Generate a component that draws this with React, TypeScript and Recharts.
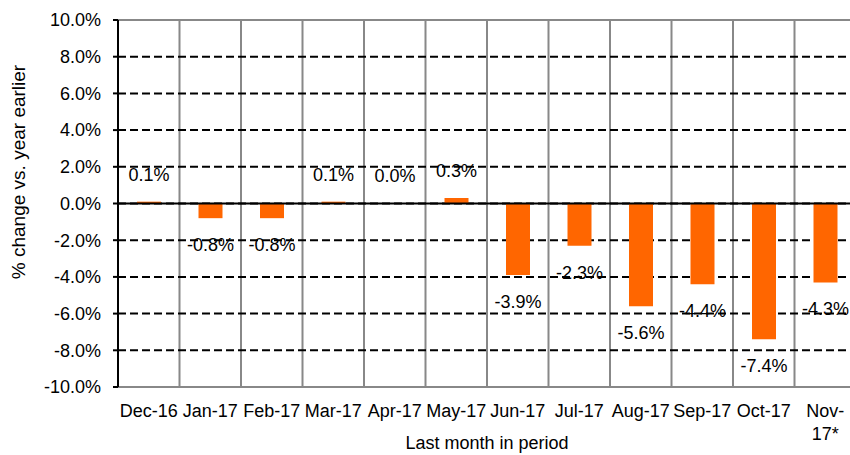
import { BarChart, Bar, XAxis, YAxis, CartesianGrid, ReferenceLine, LabelList } from 'recharts';

const months = ['Dec-16', 'Jan-17', 'Feb-17', 'Mar-17', 'Apr-17', 'May-17', 'Jun-17', 'Jul-17', 'Aug-17', 'Sep-17', 'Oct-17', 'Nov-17*'];
const changes = [0.1, -0.8, -0.8, 0.1, 0.0, 0.3, -3.9, -2.3, -5.6, -4.4, -7.4, -4.3];
const yTicks = [-10, -8, -6, -4, -2, 0, 2, 4, 6, 8, 10];

const data = months.map((m, i) => ({ month: m, change: changes[i] }));

const FONT = '"Liberation Sans", Arial, sans-serif';

function MonthTick(props: any) {
  const { x, y, payload } = props;
  const label: string = payload.value;
  // long labels wrap after the dash, like the original
  const lines = label.length > 6 ? [label.slice(0, label.indexOf('-') + 1), label.slice(label.indexOf('-') + 1)] : [label];
  return (
    <text x={x} y={y + 16} textAnchor="middle" fontSize={18} fontFamily={FONT} fill="#000">
      {lines.map((l, i) => (
        <tspan key={i} x={x} dy={i === 0 ? '0.35em' : 22.5}>{l}</tspan>
      ))}
    </text>
  );
}

function ValueLabel(props: any) {
  const { x, y, width, height, value } = props;
  const top = Math.min(y, y + height);
  const bottom = Math.max(y, y + height);
  const ly = value >= 0 ? top - 27 : bottom + 27;
  return (
    <text x={x + width / 2} y={ly} textAnchor="middle" dominantBaseline="central" fontSize={18} fontFamily={FONT} fill="#000">
      {`${Number(value).toFixed(1)}%`}
    </text>
  );
}

export default function App() {
  return (
    <div style={{ position: 'absolute', left: 0, top: 0, width: 850, height: 455, overflow: 'hidden', background: '#fff' }}>
      <BarChart width={856} height={455} data={data} margin={{ top: 20, right: 0, bottom: 0, left: 0 }} barSize={24}>
        <CartesianGrid
          horizontal={false}
          stroke="#888"
          strokeWidth={2}
          verticalCoordinatesGenerator={({ offset }: any) =>
            months.slice(1).map((_, i) => offset.left + ((i + 1) * offset.width) / months.length)
          }
        />
        <CartesianGrid vertical={false} stroke="#000" strokeWidth={2} strokeDasharray="8 4" />
        <XAxis
          dataKey="month"
          interval={0}
          tick={<MonthTick />}
          tickLine={false}
          axisLine={{ stroke: '#888', strokeWidth: 2 }}
          height={68}
          label={{ value: 'Last month in period', position: 'insideBottom', offset: 6, fontSize: 18, fontFamily: FONT, fill: '#000' }}
        />
        <YAxis
          type="number"
          domain={[-10, 10]}
          ticks={yTicks}
          interval={0}
          width={118}
          tickFormatter={(v: number) => `${v.toFixed(1)}%`}
          tick={{ fontSize: 18, fontFamily: FONT, fill: '#000' }}
          tickSize={5}
          tickMargin={12}
          tickLine={{ stroke: '#000', strokeWidth: 2 }}
          axisLine={{ stroke: '#000', strokeWidth: 2 }}
          label={{
            content: () => (
              <text x={18} y={172} transform="rotate(-90 18 172)" textAnchor="middle" dominantBaseline="central" fontSize={19} fontFamily={FONT} fill="#000">
                % change vs. year earlier
              </text>
            ),
          }}
        />
        <ReferenceLine y={10} stroke="#888" strokeWidth={2} />
        <ReferenceLine y={0} stroke="#000" strokeWidth={2} />
        <Bar
          dataKey="change"
          fill="#FF6600"
          isAnimationActive={false}
          minPointSize={(v: number) => (v === 0 ? 0.01 : 0)}
        >
          <LabelList dataKey="change" content={<ValueLabel />} />
        </Bar>
      </BarChart>
    </div>
  );
}
